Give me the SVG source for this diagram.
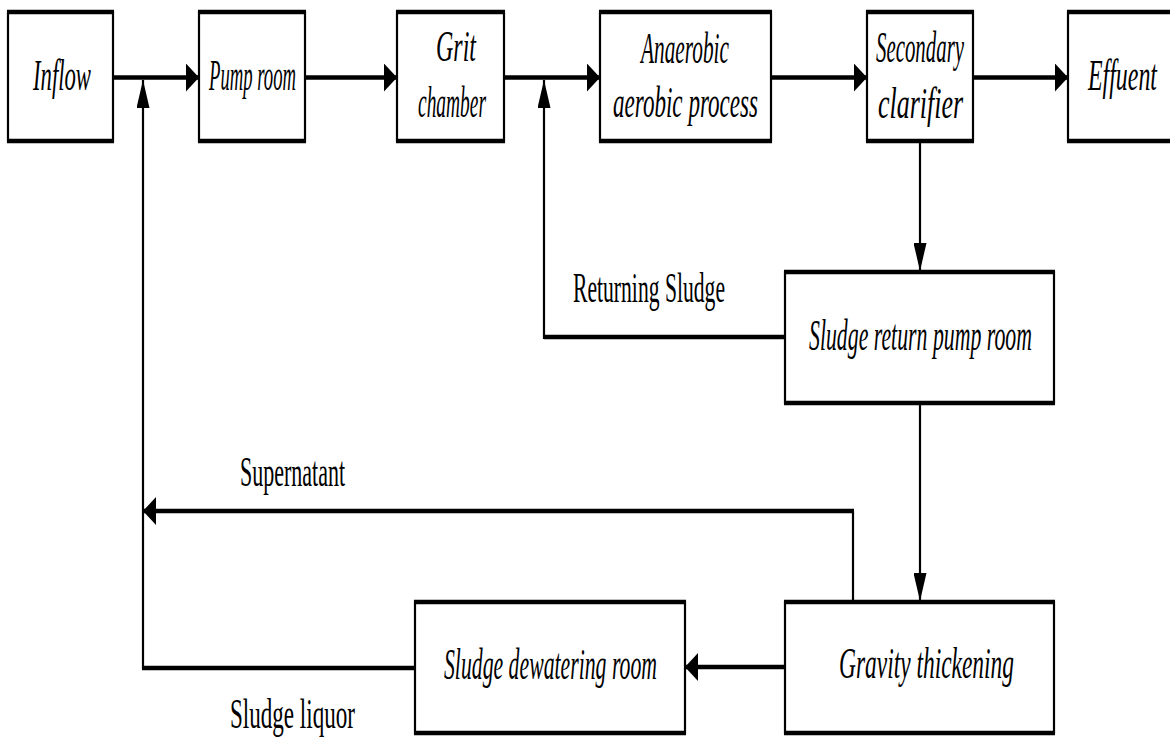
<svg xmlns="http://www.w3.org/2000/svg" width="1170" height="742" viewBox="0 0 1170 742">
<style>
.box{fill:#fff;stroke:#000;stroke-width:2.2}
.edge{fill:none;stroke:#000;stroke-width:4.5}
.lbl{font-family:"Liberation Serif",serif;font-style:italic;font-size:44px;fill:#000}
.note{font-family:"Liberation Serif",serif;font-size:42px;fill:#000}
.thick{fill:none;stroke:#000;stroke-width:4.5}
.thin{fill:none;stroke:#000;stroke-width:2.2}
</style>
<defs>
<marker id="ah" viewBox="0 0 13 28" refX="13" refY="14" markerWidth="13" markerHeight="28" markerUnits="userSpaceOnUse" orient="auto"><path d="M0,0 L13,14 L0,28 Z" fill="#000"/></marker>
<marker id="av" viewBox="0 0 28 13" refX="28" refY="6.5" markerWidth="28" markerHeight="13" markerUnits="userSpaceOnUse" orient="auto"><path d="M0,0 L28,6.5 L0,13 Z" fill="#000"/></marker>
</defs>
<rect width="1170" height="742" fill="#fff"/>
<g id="connectors">
<path class="thick" d="M113,77.5 H199" marker-end="url(#ah)"/>
<path class="thick" d="M305,77.5 H397" marker-end="url(#ah)"/>
<path class="thick" d="M504,77.5 H600" marker-end="url(#ah)"/>
<path class="thick" d="M771,77.5 H867" marker-end="url(#ah)"/>
<path class="thick" d="M973,77.5 H1068" marker-end="url(#ah)"/>
<path class="thin" d="M920,143 V271" marker-end="url(#av)"/>
<path class="thin" d="M920,403 V601" marker-end="url(#av)"/>
<path class="thick" d="M785,337 H544"/>
<path class="thin" d="M544,339 V80" marker-end="url(#av)"/>
<path class="thin" d="M853,601 V511"/>
<path class="thick" d="M854,511 H143" marker-end="url(#ah)"/>
<path class="thick" d="M785,667 H685" marker-end="url(#ah)"/>
<path class="thick" d="M415,668 H142"/>
<path class="thin" d="M143,669 V80" marker-end="url(#av)"/>
<text class="note" x="573" y="302" textLength="152" lengthAdjust="spacingAndGlyphs">Returning Sludge</text>
<text class="note" x="240" y="486" textLength="105" lengthAdjust="spacingAndGlyphs">Supernatant</text>
<text class="note" x="230" y="728" textLength="125" lengthAdjust="spacingAndGlyphs">Sludge liquor</text>
</g>
<g id="inflow">
<rect class="box" x="8" y="12" width="105" height="129"/>
<path class="edge" d="M7,12 H114 M7,141 H114"/>
<text class="lbl" x="33" y="90" textLength="58" lengthAdjust="spacingAndGlyphs">Inflow</text>
</g>
<g id="pump-room">
<rect class="box" x="199" y="12" width="106" height="129"/>
<path class="edge" d="M198,12 H306 M198,141 H306"/>
<text class="lbl" x="209" y="90" textLength="87" lengthAdjust="spacingAndGlyphs">Pump room</text>
</g>
<g id="grit-chamber">
<rect class="box" x="397" y="12" width="107" height="129"/>
<path class="edge" d="M396,12 H505 M396,141 H505"/>
<text class="lbl" x="436" y="61" textLength="40" lengthAdjust="spacingAndGlyphs">Grit</text>
<text class="lbl" x="418" y="117" textLength="68" lengthAdjust="spacingAndGlyphs">chamber</text>
</g>
<g id="anaerobic">
<rect class="box" x="600" y="12" width="171" height="129"/>
<path class="edge" d="M599,12 H772 M599,141 H772"/>
<text class="lbl" x="641" y="63" textLength="88" lengthAdjust="spacingAndGlyphs">Anaerobic</text>
<text class="lbl" x="613" y="117" textLength="145" lengthAdjust="spacingAndGlyphs">aerobic process</text>
</g>
<g id="secondary-clarifier">
<rect class="box" x="867" y="12" width="106" height="129"/>
<path class="edge" d="M866,12 H974 M866,141 H974"/>
<text class="lbl" x="876" y="62" textLength="88" lengthAdjust="spacingAndGlyphs">Secondary</text>
<text class="lbl" x="878" y="118" textLength="85" lengthAdjust="spacingAndGlyphs">clarifier</text>
</g>
<g id="effluent">
<rect class="box" x="1068" y="12" width="110" height="129"/>
<path class="edge" d="M1067,12 H1178 M1067,141 H1178"/>
<text class="lbl" x="1088" y="90" textLength="69" lengthAdjust="spacingAndGlyphs">Effuent</text>
</g>
<g id="sludge-return-pump-room">
<rect class="box" x="785" y="272" width="269" height="131"/>
<path class="edge" d="M784,272 H1055 M784,403 H1055"/>
<text class="lbl" x="809" y="350" textLength="223" lengthAdjust="spacingAndGlyphs">Sludge return pump room</text>
</g>
<g id="gravity-thickening">
<rect class="box" x="785" y="602" width="269" height="131"/>
<path class="edge" d="M784,602 H1055 M784,733 H1055"/>
<text class="lbl" x="839" y="678" textLength="175" lengthAdjust="spacingAndGlyphs">Gravity thickening</text>
</g>
<g id="sludge-dewatering-room">
<rect class="box" x="415" y="602" width="270" height="131"/>
<path class="edge" d="M414,602 H686 M414,733 H686"/>
<text class="lbl" x="444" y="679" textLength="213" lengthAdjust="spacingAndGlyphs">Sludge dewatering room</text>
</g>
</svg>
